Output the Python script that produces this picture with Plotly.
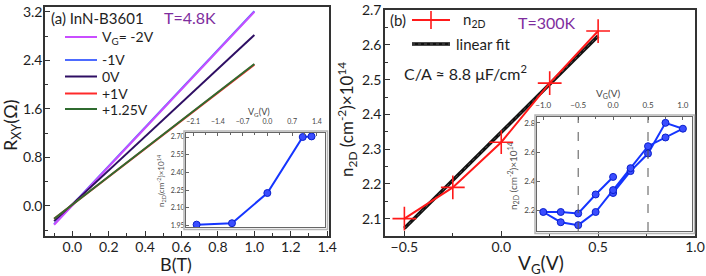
import plotly.graph_objects as go

W, H = 706, 276

# ---------------- data: panel (a) ----------------
B_ENDS = [-0.1, 1.0]
VG_LABELS_A = ["V<sub>G</sub>= -2V", "-1V", "0V", "+1V", "+1.25V"]
R_START = [-0.31, -0.30, -0.25, -0.21, -0.21]
R_END = [3.20, 3.21, 2.82, 2.33, 2.34]
COLORS_A = ["#C94DFF", "#4D6BFF", "#2E0E63", "#FF2A2A", "#2F6B2F"]
DRAW_ORDER_A = [1, 0, 2, 3, 4]

INSET_A_VG = [-2.0, -1.0, 0.0, 1.0, 1.25]
INSET_A_N = [1.957, 1.969, 2.225, 2.700, 2.705]

# ---------------- data: panel (b) ----------------
VG_MAIN = [-0.5, -0.25, 0.0, 0.25, 0.5]
N2D_MAIN = [2.10, 2.19, 2.32, 2.49, 2.64]
FIT_VG = [-0.5, 0.5]
FIT_N = [2.072, 2.626]

INSET_B_VG = [0.0, 0.25, 0.5, 0.75, 1.0, 0.75, 0.5, 0.25, 0.0, -0.25, -0.5, -0.75, -1.0,
              -0.75, -0.5, -0.25, 0.0]
INSET_B_N = [2.32, 2.47, 2.59, 2.80, 2.76, 2.70, 2.64, 2.49, 2.34, 2.19, 2.10, 2.12, 2.19,
             2.19, 2.18, 2.31, 2.43]
DASH_VG = [-0.5, 0.5]


def px(x):
    return x / W


def py(y):
    return 1 - y / H


FONT = "Lato, 'Open Sans', sans-serif"
TXT = "#1e1e1e"
PURPLE = "#7E2D9E"

fig = go.Figure()

# panel (a) lines
for i in DRAW_ORDER_A:
    fig.add_trace(go.Scatter(x=B_ENDS, y=[R_START[i], R_END[i]], mode="lines",
                             line=dict(color=COLORS_A[i], width=2),
                             xaxis="x", yaxis="y", showlegend=False, name=VG_LABELS_A[i]))

# inset (a)
fig.add_trace(go.Scatter(x=INSET_A_VG, y=INSET_A_N, mode="lines+markers",
                         line=dict(color="#1535FF", width=2),
                         marker=dict(symbol="circle", size=7, color="#3A4DFF",
                                     line=dict(color="#0A1FCC", width=1)),
                         xaxis="x3", yaxis="y3", showlegend=False))

# panel (b)
fig.add_trace(go.Scatter(x=FIT_VG, y=FIT_N, mode="lines",
                         line=dict(color="#111111", width=3.5),
                         xaxis="x2", yaxis="y2", showlegend=False, name="linear fit"))
fig.add_trace(go.Scatter(x=FIT_VG, y=FIT_N, mode="lines",
                         line=dict(color="#555555", width=1, dash="dot"),
                         xaxis="x2", yaxis="y2", showlegend=False))
fig.add_trace(go.Scatter(x=VG_MAIN, y=N2D_MAIN, mode="lines+markers",
                         line=dict(color="#FF1A1A", width=2),
                         marker=dict(symbol="cross-thin", size=17,
                                     line=dict(color="#FF1A1A", width=1.6)),
                         xaxis="x2", yaxis="y2", showlegend=False, name="n2D"))

# inset (b)
fig.add_trace(go.Scatter(x=INSET_B_VG, y=INSET_B_N, mode="lines+markers",
                         line=dict(color="#1535FF", width=2),
                         marker=dict(symbol="circle", size=7, color="#3A4DFF",
                                     line=dict(color="#0A1FCC", width=1)),
                         xaxis="x4", yaxis="y4", showlegend=False))


def main_axis(**kw):
    d = dict(showline=True, linecolor="#333333", linewidth=1.5, mirror=True,
             ticks="inside", ticklen=5, tickwidth=1.2, tickcolor="#333333",
             showgrid=False, zeroline=False, automargin=False,
             tickfont=dict(family=FONT, size=14, color=TXT))
    d.update(kw)
    return d


def inset_axis(size, **kw):
    d = dict(showline=True, linecolor="#666666", linewidth=1, mirror=True,
             ticks="inside", ticklen=3, tickwidth=1, tickcolor="#666666",
             showgrid=False, zeroline=False, automargin=False,
             tickfont=dict(family=FONT, size=size, color="#444444"))
    d.update(kw)
    return d


shapes = []
annotations = []

# legend (a)
leg_y = [37, 60, 76.5, 93.5, 109]
for i, yy in enumerate(leg_y):
    shapes.append(dict(type="line", xref="paper", yref="paper",
                       x0=px(65), x1=px(97), y0=py(yy), y1=py(yy),
                       line=dict(color=COLORS_A[i], width=2)))
    annotations.append(dict(text=VG_LABELS_A[i], x=px(100), y=py(yy), xref="paper",
                            yref="paper", xanchor="left", yanchor="middle",
                            showarrow=False, font=dict(family=FONT, size=14, color=TXT)))

annotations += [
    dict(text="(a) InN-B3601", x=px(49), y=py(18), xanchor="left"),
    dict(text="T=4.8K", x=px(162), y=py(18), xanchor="left",
         font=dict(family=FONT, size=16, color=PURPLE)),
    dict(text="(b)", x=px(388), y=py(20), xanchor="left"),
    dict(text="n<sub>2D</sub>", x=px(461), y=py(20), xanchor="left"),
    dict(text="T=300K", x=px(516), y=py(22), xanchor="left",
         font=dict(family=FONT, size=16, color=PURPLE)),
    dict(text="linear fit", x=px(454), y=py(44), xanchor="left"),
    dict(text="C/A \u2248 8.8 \u03bcF/cm<sup>2</sup>", x=px(402), y=py(72), xanchor="left",
         font=dict(family=FONT, size=16, color=TXT)),
    # axis titles
    dict(text="R<sub>XY</sub>(\u03a9)", x=px(11), y=py(126), textangle=-90,
         font=dict(family=FONT, size=18, color=TXT)),
    dict(text="B(T)", x=px(176), y=py(264), font=dict(family=FONT, size=18, color=TXT)),
    dict(text="n<sub>2D</sub> (cm<sup>-2</sup>)\u00d710<sup>14</sup>", x=px(347), y=py(120),
         textangle=-90, font=dict(family=FONT, size=17, color=TXT)),
    dict(text="V<sub>G</sub>(V)", x=px(541), y=py(264),
         font=dict(family=FONT, size=19, color=TXT)),
    # inset titles
    dict(text="V<sub>G</sub>(V)", x=px(259), y=py(112),
         font=dict(family=FONT, size=9, color="#444444")),
    dict(text="n<sub>2D</sub>(cm<sup>-2</sup>)\u00d710<sup>14</sup>", x=px(161), y=py(181),
         textangle=-90, font=dict(family=FONT, size=8, color="#555555")),
    dict(text="V<sub>G</sub>(V)", x=px(608), y=py(94),
         font=dict(family=FONT, size=10, color="#444444")),
    dict(text="n<sub>2D</sub> (cm<sup>-2</sup>)\u00d710<sup>14</sup>", x=px(513), y=py(176),
         textangle=-90, font=dict(family=FONT, size=10, color="#555555")),
]
for a in annotations:
    a.setdefault("xref", "paper")
    a.setdefault("yref", "paper")
    a.setdefault("showarrow", False)
    a.setdefault("xanchor", "center")
    a.setdefault("yanchor", "middle")
    a.setdefault("font", dict(family=FONT, size=15, color=TXT))

# legend (b) samples
shapes += [
    dict(type="line", xref="paper", yref="paper", x0=px(412), x1=px(450), y0=py(20), y1=py(20),
         line=dict(color="#FF1A1A", width=2)),
    dict(type="line", xref="paper", yref="paper", x0=px(431), x1=px(431), y0=py(11), y1=py(29),
         line=dict(color="#FF1A1A", width=1.6)),
    dict(type="line", xref="paper", yref="paper", x0=px(412), x1=px(450), y0=py(44), y1=py(44),
         line=dict(color="#111111", width=3.5)),
    dict(type="line", xref="paper", yref="paper", x0=px(412), x1=px(450), y0=py(44), y1=py(44),
         line=dict(color="#555555", width=1, dash="dot")),
]

# inset (b) dashed lines
for v in DASH_VG:
    shapes.append(dict(type="line", xref="x4", yref="y4 domain", x0=v, x1=v, y0=0, y1=1,
                       line=dict(color="#555555", width=1, dash="dash")))

# inset frames
for (x0, x1, y0, y1) in [(186, 325, 133, 227), (537, 692, 117, 231)]:
    shapes.append(dict(type="rect", xref="paper", yref="paper",
                       x0=px(x0 - 2), x1=px(x1 + 2.5), y0=py(y1 + 2.5), y1=py(y0 - 2),
                       line=dict(color="#b5b5b5", width=1.5), fillcolor="rgba(0,0,0,0)"))

fig.update_layout(
    template="none",
    width=W, height=H,
    margin=dict(l=0, r=0, t=0, b=0),
    paper_bgcolor="white", plot_bgcolor="white",
    showlegend=False,
    font=dict(family=FONT, color=TXT),
    xaxis=main_axis(domain=[px(45), px(329)], anchor="y", range=[-0.15, 1.41],
                    tick0=0, dtick=0.2, tickformat=".1f", ticklabelstandoff=-3,
                    minor=dict(ticks="inside", ticklen=3, dtick=0.1, tickcolor="#333333")),
    yaxis=main_axis(domain=[py(236), py(7)], anchor="x", range=[-0.495, 3.28],
                    tick0=0, dtick=0.8, tickformat=".1f", ticklabelstandoff=-2,
                    minor=dict(ticks="inside", ticklen=3, dtick=0.4, tickcolor="#333333")),
    xaxis2=main_axis(domain=[px(385), px(695)], anchor="y2", range=[-0.6, 1.0],
                     tick0=0, dtick=0.5, tickformat=".1f", ticklabelstandoff=-3,
                     minor=dict(ticks="inside", ticklen=3, dtick=0.25, tickcolor="#333333")),
    yaxis2=main_axis(domain=[py(236), py(9.5)], anchor="x2", range=[2.05, 2.702],
                     tick0=2.1, dtick=0.1, tickformat=".1f", ticklabelstandoff=-1,
                     minor=dict(ticks="inside", ticklen=3, dtick=0.05, tickcolor="#333333")),
    xaxis3=inset_axis(7, domain=[px(186), px(325)], anchor="y3", side="top",
                      range=[-2.3, 1.63], tickvals=[-2.1, -1.4, -0.7, 0.0, 0.7, 1.4],
                      tickformat=".1f", ticklabelstandoff=5,
                      minor=dict(ticks="inside", ticklen=2, dtick=0.35, tickcolor="#666666")),
    yaxis3=inset_axis(7, domain=[py(227), py(133)], anchor="x3", range=[1.937, 2.734],
                      tick0=1.95, dtick=0.15, tickformat=".2f", ticklabelstandoff=-1),
    xaxis4=inset_axis(8, domain=[px(537), px(692)], anchor="y4", side="top",
                      range=[-1.09, 1.13], tick0=0, dtick=0.5, tickformat=".1f",
                      ticklabelstandoff=5,
                      minor=dict(ticks="inside", ticklen=2, dtick=0.25, tickcolor="#666666")),
    yaxis4=inset_axis(8, domain=[py(231), py(117)], anchor="x4", range=[2.06, 2.84],
                      tick0=2.2, dtick=0.2, tickformat=".1f", ticklabelstandoff=-1),
    shapes=shapes,
    annotations=annotations,
)

fig.write_html("out.html", config={"displayModeBar": False},
               post_script="document.body.style.margin='0';document.body.style.padding='0';")
